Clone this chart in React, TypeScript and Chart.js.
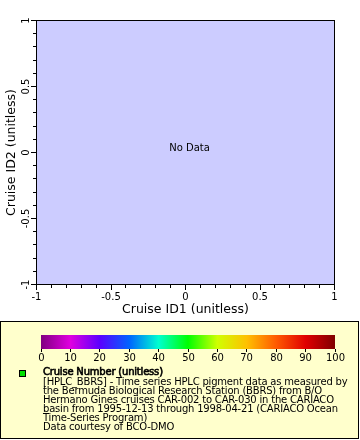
import React, { useEffect, useRef } from 'react';
import { Chart, registerables } from 'chart.js';

Chart.register(...registerables);

// ---- data / labels ----
const X_MIN = -1;
const X_MAX = 1;
const Y_MIN = -1;
const Y_MAX = 1;
const MINOR_STEP = 0.1;
const MAJOR_STEP = 0.5;
const cruiseId1: number[] = [];
const cruiseId2: number[] = [];
const cruiseNumber: number[] = [];
const xTitle = 'Cruise ID1 (unitless)';
const yTitle = 'Cruise ID2 (unitless)';
const emptyText = 'No Data';
const colorbarTicks = [0, 10, 20, 30, 40, 50, 60, 70, 80, 90, 100];
const colorbarColors = [
  '#800080', '#e000e0', '#5a00ff', '#0064ff', '#00ffd0', '#00ff00',
  '#d0ff00', '#ffc000', '#ff5a00', '#e00000', '#800000',
];
const legendTitle = 'Cruise Number (unitless)';
const legendLines = [
  '[HPLC_BBRS] - Time series HPLC pigment data as measured by',
  'the Bermuda Biological Research Station (BBRS) from B/O',
  'Hermano Gines cruises CAR-002 to CAR-030 in the CARIACO',
  'basin from 1995-12-13 through 1998-04-21 (CARIACO Ocean',
  'Time-Series Program)',
  'Data courtesy of BCO-DMO',
];

const FONT = 'DejaVu Sans';

const isMajor = (v: number) => Math.abs(v / MAJOR_STEP - Math.round(v / MAJOR_STEP)) < 1e-6;
const fmt = (v: number) => String(Math.round(v * 10) / 10);

const decor = {
  id: 'decor',
  beforeDraw(chart: any) {
    const { ctx, chartArea: a } = chart;
    ctx.save();
    ctx.fillStyle = '#ccccff';
    ctx.fillRect(a.left, a.top, a.right - a.left, a.bottom - a.top);
    ctx.restore();
  },
  afterDraw(chart: any) {
    const { ctx, chartArea: a } = chart;
    const xs = chart.scales.x;
    const ys = chart.scales.y;
    ctx.save();
    ctx.strokeStyle = '#000';
    ctx.lineWidth = 1;
    // plot frame
    ctx.strokeRect(a.left, a.top, a.right - a.left, a.bottom - a.top);
    // tick marks
    ctx.beginPath();
    xs.ticks.forEach((t: any) => {
      const px = Math.round(xs.getPixelForValue(t.value) - 0.5) + 0.5;
      const len = isMajor(t.value) ? 5 : 3;
      ctx.moveTo(px, a.bottom + 0.5);
      ctx.lineTo(px, a.bottom + 0.5 + len);
    });
    ys.ticks.forEach((t: any) => {
      const py = Math.round(ys.getPixelForValue(t.value) - 0.5) + 0.5;
      const len = isMajor(t.value) ? 5 : 3;
      ctx.moveTo(a.left - 0.5, py);
      ctx.lineTo(a.left - 0.5 - len, py);
    });
    ctx.stroke();

    // no data text
    if (cruiseId1.length === 0) {
      ctx.fillStyle = '#000';
      ctx.font = `10px "${FONT}"`;
      ctx.textAlign = 'center';
      ctx.textBaseline = 'middle';
      ctx.fillText(emptyText, (a.left + a.right) / 2 + 4, (a.top + a.bottom) / 2 - 4);
    }

    // legend box
    ctx.fillStyle = '#ffffcc';
    ctx.fillRect(0.5, 321.5, 358, 117);
    ctx.strokeRect(0.5, 321.5, 358, 117);

    // colorbar
    const cbL = 41, cbR = 335, cbT = 335, cbB = 349;
    const vMin = colorbarTicks[0];
    const vMax = colorbarTicks[colorbarTicks.length - 1];
    const grad = ctx.createLinearGradient(cbL, 0, cbR, 0);
    colorbarTicks.forEach((v, i) => grad.addColorStop((v - vMin) / (vMax - vMin), colorbarColors[i]));
    ctx.fillStyle = grad;
    ctx.fillRect(cbL, cbT, cbR - cbL, cbB - cbT);
    ctx.beginPath();
    ctx.fillStyle = '#000';
    ctx.font = `10px "${FONT}"`;
    ctx.textAlign = 'center';
    ctx.textBaseline = 'middle';
    colorbarTicks.forEach((v) => {
      const px = Math.round(cbL + ((v - vMin) / (vMax - vMin)) * (cbR - cbL) - 0.5) + 0.5;
      ctx.moveTo(px, cbB);
      ctx.lineTo(px, cbB + 3);
      ctx.fillText(String(v), px, 358);
    });
    ctx.stroke();

    // marker
    ctx.fillStyle = '#00e000';
    ctx.fillRect(19.5, 370.5, 6, 6);
    ctx.strokeRect(19.5, 370.5, 6, 6);

    // legend text
    ctx.fillStyle = '#000';
    ctx.textAlign = 'left';
    ctx.textBaseline = 'alphabetic';
    ctx.font = `10px "${FONT}"`;
    (ctx as any).letterSpacing = '-0.2px';
    ctx.lineWidth = 0.6;
    ctx.fillText(legendTitle, 43, 375);
    ctx.strokeText(legendTitle, 43, 375);
    legendLines.forEach((line, i) => {
      ctx.fillText(line, 43, 384.5 + i * 9.1);
    });
    (ctx as any).letterSpacing = '0px';
    ctx.restore();
  },
};

export default function App() {
  const ref = useRef<HTMLCanvasElement | null>(null);
  useEffect(() => {
    document.body.style.margin = '0';
    Chart.defaults.font.family = FONT;
    const chart = new Chart(ref.current as HTMLCanvasElement, {
      type: 'scatter',
      data: {
        datasets: [
          {
            label: legendTitle,
            data: cruiseId1.map((x, i) => ({ x, y: cruiseId2[i], v: cruiseNumber[i] })) as any,
            backgroundColor: '#00e000',
          },
        ],
      },
      options: {
        responsive: false,
        animation: false,
        layout: { padding: { left: 0, top: 20.5, right: 25.5, bottom: 121 } },
        plugins: { legend: { display: false }, tooltip: { enabled: false } },
        scales: {
          x: {
            type: 'linear',
            min: X_MIN,
            max: X_MAX,
            afterFit: (s: any) => { s.height = 34.5; },
            grid: { display: false, drawTicks: false },
            border: { display: false },
            ticks: {
              stepSize: MINOR_STEP,
              autoSkip: false,
              minRotation: 0,
              maxRotation: 0,
              padding: 7,
              color: '#000',
              font: { size: 10 },
              callback: (v: any) => (isMajor(Number(v)) ? fmt(Number(v)) : ''),
            },
            title: { display: true, text: xTitle, color: '#000', font: { size: 12.5 }, padding: { top: 0, bottom: 2 } },
          },
          y: {
            type: 'linear',
            min: Y_MIN,
            max: Y_MAX,
            afterFit: (s: any) => { s.width = 36.5; },
            grid: { display: false, drawTicks: false },
            border: { display: false },
            ticks: {
              stepSize: MINOR_STEP,
              autoSkip: false,
              minRotation: 90,
              maxRotation: 90,
              crossAlign: 'center',
              padding: 0,
              color: '#000',
              font: { size: 10 },
              callback: (v: any) => (isMajor(Number(v)) ? fmt(Number(v)) : ''),
            },
            title: { display: true, text: yTitle, color: '#000', font: { size: 12.5 }, padding: { top: 4, bottom: 0 } },
          },
        },
      },
      plugins: [decor],
    });
    return () => chart.destroy();
  }, []);
  return <canvas ref={ref} width={360} height={440} style={{ display: 'block' }} />;
}
